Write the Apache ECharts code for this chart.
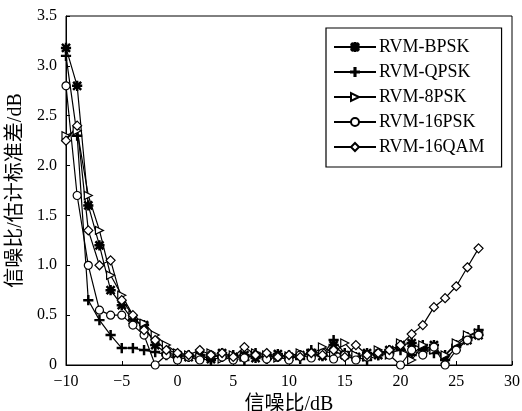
<!DOCTYPE html>
<html><head><meta charset="utf-8">
<script src="https://cdn.jsdelivr.net/npm/echarts@6/dist/echarts.min.js"></script>
<style>html,body{margin:0;padding:0;background:#fff}#c{width:522px;height:411px}</style>
</head><body><div id="c"></div>
<script>
var snr = [-10,-9,-8,-7,-6,-5,-4,-3,-2,-1,0,1,2,3,4,5,6,7,8,9,10,11,12,13,14,15,16,17,18,19,20,21,22,23,24,25,26,27];
var bpsk = [3.18,2.8,1.6,1.2,0.75,0.6,0.45,0.4,0.2,0.12,0.1,0.08,0.1,0.06,0.12,0.08,0.1,0.07,0.09,0.11,0.08,0.1,0.12,0.09,0.2,0.1,0.08,0.12,0.1,0.15,0.2,0.22,0.15,0.2,0.05,0.18,0.25,0.3];
var qpsk = [3.1,2.3,0.65,0.45,0.3,0.17,0.17,0.15,0.13,0.1,0.08,0.1,0.06,0.05,0.08,0.1,0.05,0.12,0.06,0.08,0.1,0.06,0.15,0.1,0.25,0.12,0.08,0.05,0.1,0.12,0.15,0.1,0.2,0.12,0.1,0.2,0.28,0.35];
var psk8 = [2.3,2.35,1.7,1.35,0.9,0.7,0.5,0.42,0.3,0.2,0.12,0.1,0.08,0.12,0.06,0.1,0.08,0.12,0.1,0.07,0.09,0.12,0.1,0.18,0.12,0.22,0.1,0.08,0.15,0.1,0.22,0.05,0.2,0.15,0.1,0.22,0.3,0.32];
var psk16 = [2.8,1.7,1.0,0.55,0.5,0.5,0.4,0.3,0.0,0.1,0.05,0.08,0.05,0.1,0.08,0.05,0.07,0.1,0.06,0.08,0.05,0.1,0.07,0.12,0.06,0.1,0.05,0.08,0.12,0.1,0.0,0.15,0.1,0.18,0.0,0.15,0.25,0.3];
var qam16 = [2.25,2.4,1.35,1.0,1.05,0.65,0.5,0.35,0.25,0.15,0.12,0.1,0.15,0.1,0.12,0.08,0.18,0.1,0.12,0.08,0.1,0.08,0.12,0.1,0.15,0.08,0.2,0.1,0.12,0.15,0.2,0.31,0.4,0.58,0.67,0.79,0.98,1.17];
var seriesNames = ['RVM-BPSK','RVM-QPSK','RVM-8PSK','RVM-16PSK','RVM-16QAM'];

var FONT = '"Liberation Serif","Noto Sans CJK SC",serif';
var plusPath = 'path://M4.3,0h1.4v4.3h4.3v1.4h-4.3v4.3h-1.4v-4.3h-4.3v-1.4h4.3z';
var starPath = 'path://M4.3,0h1.4v4.3h4.3v1.4h-4.3v4.3h-1.4v-4.3h-4.3v-1.4h4.3zM1.5,0.5L5,4L8.5,0.5L9.5,1.5L6,5L9.5,8.5L8.5,9.5L5,6L1.5,9.5L0.5,8.5L4,5L0.5,1.5z';
function pairs(arr){ return arr.map(function(v,i){ return [snr[i], v]; }); }
function mk(name, data, symbol, size, rot, fill){
  return {
    name: name, type: 'line', data: pairs(data),
    symbol: symbol, symbolSize: size, symbolRotate: rot || 0,
    lineStyle: {color:'#000', width:1.2},
    itemStyle: {color: fill ? '#000' : '#fff', borderColor:'#000', borderWidth:1.2},
    emphasis: {disabled:true}
  };
}
var chart = echarts.init(document.getElementById('c'));
chart.setOption({
  animation: false,
  backgroundColor: '#fff',
  grid: {left: 66, right: 10, top: 16, bottom: 46, show: true, borderColor: '#000', borderWidth: 1,
         containLabel: false, outerBoundsMode: 'none'},
  legend: {
    orient: 'vertical', left: 326, top: 28,
    data: seriesNames,
    itemWidth: 42, itemHeight: 10, itemGap: 7,
    padding: [10, 17, 11, 7],
    borderColor: '#000', borderWidth: 1.2, backgroundColor: '#fff',
    textStyle: {fontFamily: FONT, fontSize: 18, color: '#000', padding: [0,0,0,-2]},
    inactiveColor: '#000'
  },
  xAxis: {
    type: 'value', min: -10, max: 30, interval: 5,
    name: '信噪比/dB', nameLocation: 'middle', nameGap: 25,
    nameTextStyle: {fontFamily: FONT, fontSize: 20, color: '#000'},
    axisLine: {onZero: false, lineStyle: {color: '#000', width: 1}},
    axisTick: {inside: true, length: 4, lineStyle: {color: '#000'}},
    axisLabel: {fontFamily: FONT, fontSize: 16, color: '#000', margin: 9,
      formatter: function(v){ return String(v).replace('-', '\u2212'); }},
    splitLine: {show: false}
  },
  yAxis: {
    type: 'value', min: 0, max: 3.5, interval: 0.5,
    name: '信噪比/估计标准差/dB', nameLocation: 'middle', nameGap: 31,
    nameTextStyle: {fontFamily: FONT, fontSize: 20, color: '#000'},
    axisLine: {onZero: false, lineStyle: {color: '#000', width: 1}},
    axisTick: {inside: true, length: 4, lineStyle: {color: '#000'}},
    axisLabel: {fontFamily: FONT, fontSize: 16, color: '#000', margin: 9,
      formatter: function(v){ return v === 0 ? '0' : v.toFixed(1); }},
    splitLine: {show: false}
  },
  series: [
    mk(seriesNames[0], bpsk, starPath, 9, 0, true),
    mk(seriesNames[1], qpsk, plusPath, 9, 0, true),
    mk(seriesNames[2], psk8, 'triangle', 8, -90, false),
    mk(seriesNames[3], psk16, 'circle', 8, 0, false),
    mk(seriesNames[4], qam16, 'diamond', 9, 0, false)
  ]
});
</script></body></html>
